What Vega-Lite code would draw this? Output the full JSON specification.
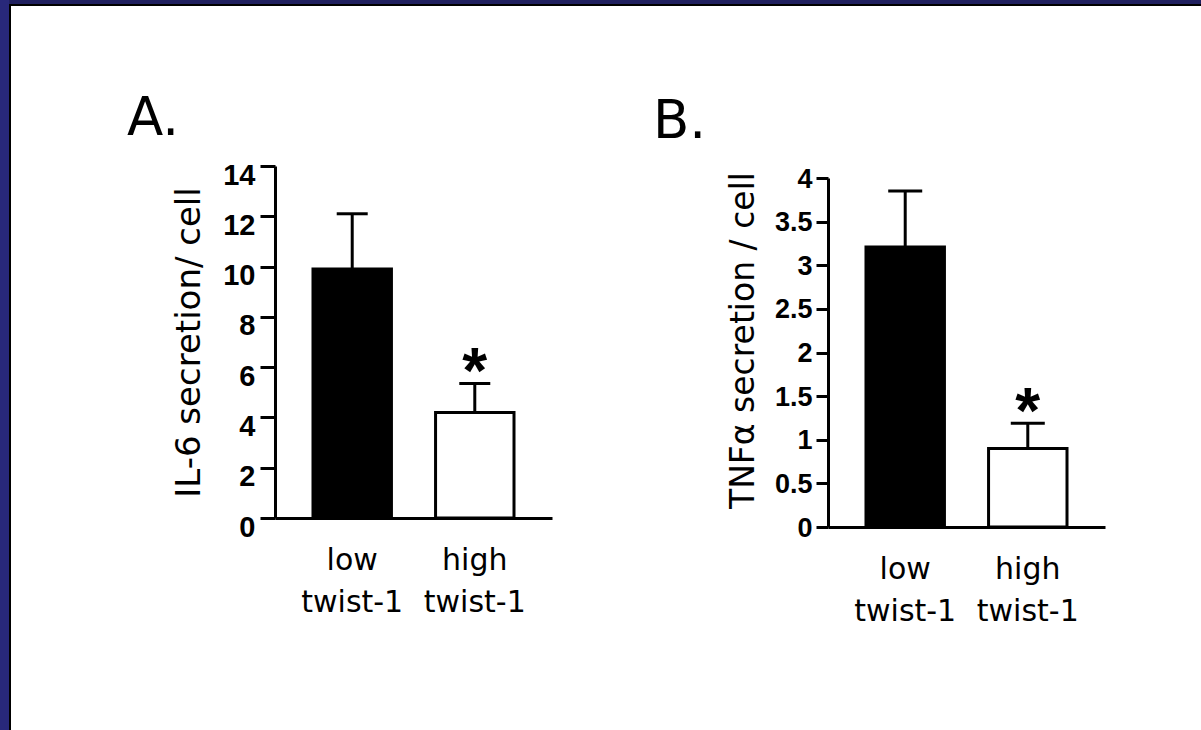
{
  "$schema": "https://vega.github.io/schema/vega-lite/v6.json",
  "background": "white",
  "padding": 0,
  "config": {"view": {"stroke": null}, "axis": {"grid": false}},
  "datasets": {
    "il6": [
      {"group": "low twist-1", "value": 9.9, "upper": 12.1, "sig": ""},
      {"group": "high twist-1", "value": 4.2, "upper": 5.35, "sig": "*"}
    ],
    "tnf": [
      {"group": "low twist-1", "value": 3.21, "upper": 3.85, "sig": ""},
      {"group": "high twist-1", "value": 0.9, "upper": 1.19, "sig": "*"}
    ]
  },
  "bounds": "flush",
  "spacing": 0,
  "hconcat": [
    {"width": 9, "height": 730, "view": {"fill": "#28287a", "stroke": null}, "data": {"values": [{}]}, "mark": {"type": "point", "size": 0, "opacity": 0}, "encoding": {}},
    {
      "bounds": "flush",
      "spacing": 0,
      "vconcat": [
        {"width": 1192, "height": 4, "view": {"fill": "#20205f", "stroke": null}, "data": {"values": [{}]}, "mark": {"type": "point", "size": 0, "opacity": 0}, "encoding": {}},
        {"width": 1192, "height": 2, "view": {"fill": "black", "stroke": null}, "data": {"values": [{}]}, "mark": {"type": "point", "size": 0, "opacity": 0}, "encoding": {}},
        {
          "bounds": "flush",
          "spacing": 264,
          "hconcat": [
            {"width": 2, "height": 724, "view": {"fill": "black", "stroke": null}, "data": {"values": [{}]}, "mark": {"type": "point", "size": 0, "opacity": 0}, "encoding": {}},
            {
              "bounds": "flush",
              "spacing": 0,
              "vconcat": [
                {"width": 1, "height": 160, "view": {"stroke": null}, "data": {"values": [{}]}, "mark": {"type": "point", "size": 0, "opacity": 0}, "encoding": {}},
                {
                  "bounds": "flush",
                  "spacing": 276,
                  "hconcat": [
                    {
                      "width": 277,
                      "height": 352,
                      "data": {"name": "il6"},
                      "title": {"text": "A.", "anchor": "start", "frame": "group", "dx": -148, "offset": -27, "baseline": "alphabetic", "fontSize": 53, "font": "DejaVu Sans", "fontWeight": "normal", "color": "black"},
                      "encoding": {
                        "x": {
                          "field": "group", "type": "nominal", "sort": null,
                          "scale": {"paddingInner": 0.36, "paddingOuter": 0.31},
                          "axis": {"title": null, "labelAngle": 0, "labelExpr": "split(datum.label, ' ')", "ticks": false, "tickSize": 0, "domainWidth": 3, "domainColor": "black", "labelFont": "DejaVu Sans", "labelFontSize": 30, "labelColor": "black", "labelPadding": 27, "labelLineHeight": 42, "labelBaseline": "top"}
                        }
                      },
                      "layer": [
                        {
                          "mark": {"type": "bar", "stroke": "black", "strokeWidth": 3},
                          "encoding": {
                            "y": {
                              "field": "value", "type": "quantitative", "title": "IL-6 secretion/ cell",
                              "scale": {"domain": [0, 14], "nice": false},
                              "axis": {"values": [0, 2, 4, 6, 8, 10, 12, 14], "domainWidth": 3, "domainColor": "black", "tickWidth": 3, "tickColor": "black", "tickSize": 15, "labelFont": "Liberation Sans", "labelFontWeight": "bold", "labelFontSize": 29, "labelColor": "black", "labelPadding": 5, "labelBaseline": "middle", "labelOffset": 9, "labelOverlap": false, "titleFont": "DejaVu Sans", "titleFontSize": 34, "titleFontWeight": "normal", "titleColor": "black", "titlePadding": 16}
                            },
                            "fill": {"field": "group", "type": "nominal", "sort": null, "scale": {"range": ["black", "white"]}, "legend": null}
                          }
                        },
                        {
                          "mark": {"type": "rule", "strokeWidth": 3, "color": "black"},
                          "encoding": {"y": {"field": "value", "type": "quantitative", "title": "IL-6 secretion/ cell"}, "y2": {"field": "upper"}}
                        },
                        {
                          "mark": {"type": "tick", "orient": "horizontal", "size": 31, "thickness": 3, "color": "black", "opacity": 1},
                          "encoding": {"y": {"field": "upper", "type": "quantitative", "title": "IL-6 secretion/ cell"}}
                        },
                        {
                          "mark": {"type": "text", "font": "Liberation Sans", "fontWeight": "bold", "fontSize": 64, "baseline": "alphabetic", "dy": 10, "color": "black"},
                          "encoding": {"y": {"field": "upper", "type": "quantitative", "title": "IL-6 secretion/ cell"}, "text": {"field": "sig"}}
                        }
                      ]
                    },
                    {
                      "bounds": "flush",
                      "spacing": 0,
                      "vconcat": [
                        {"width": 1, "height": 12, "view": {"stroke": null}, "data": {"values": [{}]}, "mark": {"type": "point", "size": 0, "opacity": 0}, "encoding": {}},
                        {
                          "width": 277,
                          "height": 349,
                          "data": {"name": "tnf"},
                          "title": {"text": "B.", "anchor": "start", "frame": "group", "dx": -175, "offset": -41, "baseline": "alphabetic", "fontSize": 53, "font": "DejaVu Sans", "fontWeight": "normal", "color": "black"},
                          "encoding": {
                            "x": {
                              "field": "group", "type": "nominal", "sort": null,
                              "scale": {"paddingInner": 0.36, "paddingOuter": 0.31},
                              "axis": {"title": null, "labelAngle": 0, "labelExpr": "split(datum.label, ' ')", "ticks": false, "tickSize": 0, "domainWidth": 3, "domainColor": "black", "labelFont": "DejaVu Sans", "labelFontSize": 30, "labelColor": "black", "labelPadding": 27, "labelLineHeight": 42, "labelBaseline": "top"}
                            }
                          },
                          "layer": [
                            {
                              "mark": {"type": "bar", "stroke": "black", "strokeWidth": 3},
                              "encoding": {
                                "y": {
                                  "field": "value", "type": "quantitative", "title": "TNFα secretion / cell",
                                  "scale": {"domain": [0, 4], "nice": false},
                                  "axis": {"values": [0, 0.5, 1, 1.5, 2, 2.5, 3, 3.5, 4], "format": "~g", "domainWidth": 3, "domainColor": "black", "tickWidth": 3, "tickColor": "black", "tickSize": 12, "labelFont": "Liberation Sans", "labelFontWeight": "bold", "labelFontSize": 27, "labelColor": "black", "labelPadding": 4, "labelBaseline": "middle", "labelOffset": 1, "labelOverlap": false, "titleFont": "DejaVu Sans", "titleFontSize": 33, "titleFontWeight": "normal", "titleColor": "black", "titlePadding": 14, "titleY": 162}
                                },
                                "fill": {"field": "group", "type": "nominal", "sort": null, "scale": {"range": ["black", "white"]}, "legend": null}
                              }
                            },
                            {
                              "mark": {"type": "rule", "strokeWidth": 3, "color": "black"},
                              "encoding": {"y": {"field": "value", "type": "quantitative", "title": "TNFα secretion / cell"}, "y2": {"field": "upper"}}
                            },
                            {
                              "mark": {"type": "tick", "orient": "horizontal", "size": 34, "thickness": 3, "color": "black", "opacity": 1},
                              "encoding": {"y": {"field": "upper", "type": "quantitative", "title": "TNFα secretion / cell"}}
                            },
                            {
                              "mark": {"type": "text", "font": "Liberation Sans", "fontWeight": "bold", "fontSize": 64, "baseline": "alphabetic", "dy": 10, "color": "black"},
                              "encoding": {"y": {"field": "upper", "type": "quantitative", "title": "TNFα secretion / cell"}, "text": {"field": "sig"}}
                            }
                          ]
                        }
                      ]
                    }
                  ]
                }
              ]
            }
          ]
        }
      ]
    }
  ]
}
